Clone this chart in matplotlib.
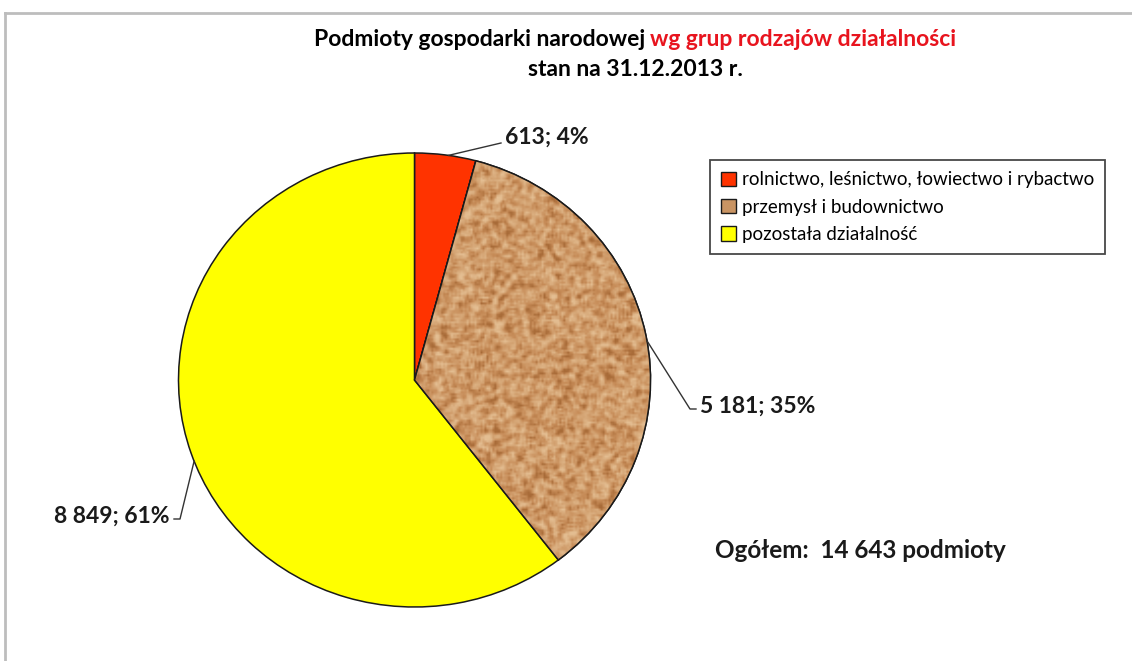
import numpy as np
import matplotlib
matplotlib.use("Agg")
import matplotlib.pyplot as plt
from matplotlib.patches import Patch
from matplotlib.lines import Line2D
from matplotlib.colors import LinearSegmentedColormap

# ---- data ----
categories = ["rolnictwo, leśnictwo, łowiectwo i rybactwo",
              "przemysł i budownictwo",
              "pozostała działalność"]
values = [613, 5181, 8849]
value_labels = ["613; 4%", "5 181; 35%", "8 849; 61%"]
colors = ["#FF3300", "#C99463", "#FFFF00"]
title_black = "Podmioty gospodarki narodowej "
title_red = "wg grup rodzajów działalności"
subtitle = "stan na 31.12.2013 r."
total_text = "Ogółem:  14 643 podmioty"

W, H = 1132, 661
fig = plt.figure(figsize=(W / 100, H / 100), dpi=100)
plt.rcParams['font.family'] = ['Lato', 'DejaVu Sans']

def px(x, y):
    return x / W, 1 - y / H

# frame
fig.add_artist(Line2D([5 / W, 1], [1 - 13 / H, 1 - 13 / H], color="#BDBDBD", lw=2, transform=fig.transFigure))
fig.add_artist(Line2D([5 / W, 5 / W], [0, 1 - 13 / H], color="#BDBDBD", lw=2, transform=fig.transFigure))

# pie axes: center (414.5, 380), rx 236, ry 227
cx, cy, rx, ry = 414.5, 380, 236, 227
ax = fig.add_axes([(cx - rx) / W, 1 - (cy + ry) / H, 2 * rx / W, 2 * ry / H])

wedges, _ = ax.pie(values, colors=colors, startangle=90, counterclock=False,
                   radius=1.0, wedgeprops=dict(edgecolor="#1a1a1a", linewidth=1.1))
for w in wedges:
    w.set_zorder(2)

# cork texture (deterministic hash noise) clipped to the second wedge
n = 240
yy, xx = np.mgrid[0:n, 0:n].astype(float)
h = np.sin(xx * 12.9898 + yy * 78.233) * 43758.5453
h = h - np.floor(h)
k = np.ones((3, 3)) / 9.0
hp = np.pad(h, 1, mode='edge')
hs = sum(hp[i:i + n, j:j + n] * k[i, j] for i in range(3) for j in range(3))
cork = LinearSegmentedColormap.from_list("cork", ["#A86B38", "#C68B57", "#D6A777", "#E4BE92"])
im = ax.imshow(hs, extent=[-1, 1, -1, 1], cmap=cork, interpolation='bilinear',
               zorder=2.5, aspect='auto', vmin=0.28, vmax=0.72)
im.set_clip_path(wedges[1])
edge = ax.pie([values[1], sum(values) - values[1]], startangle=90 - 360 * values[0] / sum(values),
              counterclock=False, radius=1.0,
              wedgeprops=dict(edgecolor="#1a1a1a", linewidth=1.1, fill=False))[0]
edge[1].set_visible(False)
edge[0].set_zorder(3)

ax.set_aspect('auto')
ax.set_xlim(-1, 1)
ax.set_ylim(-1, 1)
ax.axis('off')

# value labels with leader lines
total = sum(values)
cum = np.cumsum([0] + values)
label_pos = [(505, 137, 'left'), (700, 406, 'left'), (170, 516, 'right')]
anchor_frac = [0.55, 0.51, 0.49]
for i in range(3):
    a0 = 90 - 360 * cum[i] / total
    a1 = 90 - 360 * cum[i + 1] / total
    a = np.deg2rad(a0 + (a1 - a0) * anchor_frac[i])
    ex, ey = np.cos(a), np.sin(a)
    tx, ty, ha = label_pos[i]
    fx, fy = px(tx, ty)
    fig.text(fx, fy, value_labels[i], ha=ha, va='center', fontsize=16.5,
             fontweight='bold', color="#1a1a1a")
    p_edge = ax.transData.transform((ex, ey))
    p_edge = fig.transFigure.inverted().transform(p_edge)
    kx = fx - 4 / W if ha == 'left' else fx + 4 / W
    if i == 0:
        pts_x = [p_edge[0], kx]
        pts_y = [p_edge[1], fy - 6 / H]
    else:
        kx2 = kx - 6 / W if ha == 'left' else kx + 6 / W
        pts_x = [p_edge[0], kx2, kx]
        pts_y = [p_edge[1], fy - 3 / H, fy - 3 / H]
        if ha == 'right':
            pts_x = [p_edge[0], kx2 + 0 / W, kx2, kx]
            pts_x = [p_edge[0], kx2, kx]
    fig.add_artist(Line2D(pts_x, pts_y, color="#333333", lw=1.0, transform=fig.transFigure))

# title (two-colour first line)
fig.canvas.draw()
r = fig.canvas.get_renderer()
tb = fig.text(0, 0, title_black, fontsize=16.5, fontweight='bold', color='black', va='center')
trd = fig.text(0, 0, title_red, fontsize=16.5, fontweight='bold', color='#E8141E', va='center')
wb = tb.get_window_extent(r).width
wr = trd.get_window_extent(r).width
x0 = 635 - (wb + wr) / 2
tb.set_position((x0 / W, 1 - 40 / H))
trd.set_position(((x0 + wb) / W, 1 - 40 / H))
fig.text(635 / W, 1 - 70 / H, subtitle, fontsize=16.5, fontweight='bold', ha='center', va='center')

# legend
handles = [Patch(facecolor=c, edgecolor='#1a1a1a') for c in colors]
leg = fig.legend(handles, categories, loc='upper left', bbox_to_anchor=(710 / W, 1 - 160 / H),
                 fontsize=13.5, frameon=True, fancybox=False, edgecolor='#1a1a1a',
                 handlelength=0.8, handleheight=0.8, handletextpad=0.3, labelspacing=0.55,
                 borderpad=0.6, borderaxespad=0)
leg.get_frame().set_linewidth(1.3)

# total
fig.text(715 / W, 1 - 550 / H, total_text, fontsize=17.5, fontweight='bold', va='center', color="#1a1a1a")

fig.savefig("out.png", dpi=100, facecolor='white')
